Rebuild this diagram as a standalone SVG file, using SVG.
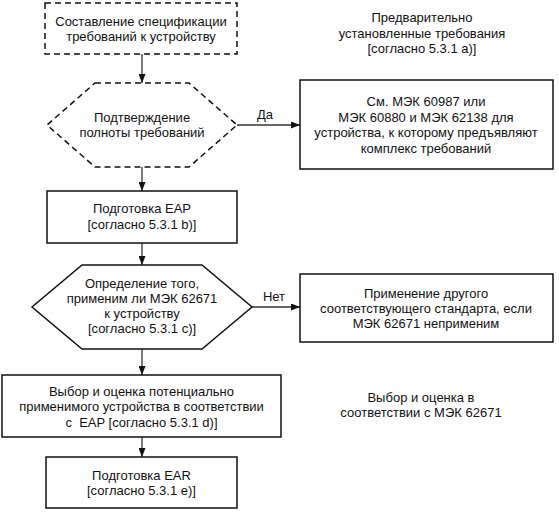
<svg xmlns="http://www.w3.org/2000/svg" width="559" height="513" viewBox="0 0 559 513">
<style>
  text { font-family: "Liberation Sans", Arial, sans-serif; font-size: 13px; fill: #111; text-anchor: middle; }
  .box { fill: #fff; stroke: #111; stroke-width: 1.5; }
  .dash { stroke-dasharray: 6 4; }
  .conn { stroke: #333; stroke-width: 1.3; fill: none; marker-end: url(#arrow); }
</style>
<defs>
  <marker id="arrow" markerWidth="9" markerHeight="7" refX="9" refY="3.5" orient="auto" markerUnits="userSpaceOnUse">
    <path d="M0,0 L9,3.5 L0,7 Z" fill="#111"/>
  </marker>
</defs>
<rect width="559" height="513" fill="#fff"/>

<g id="connectors">
  <line class="conn" x1="142" y1="54" x2="142" y2="83"/>
  <line class="conn" x1="142" y1="167" x2="142" y2="191"/>
  <line class="conn" x1="142" y1="243" x2="142" y2="265"/>
  <line class="conn" x1="142" y1="349" x2="142" y2="375"/>
  <line class="conn" x1="142" y1="437" x2="142" y2="457"/>
  <line class="conn" x1="237" y1="125" x2="300" y2="125"/>
  <line class="conn" x1="252" y1="307" x2="300" y2="307"/>
  <text x="265" y="119">Да</text>
  <text x="274" y="301">Нет</text>
</g>

<g id="spec">
  <rect class="box dash" x="45" y="3" width="192" height="51"/>
  <text x="141" y="26">Составление спецификации</text>
  <text x="141" y="41">требований к устройству</text>
</g>

<g id="preset">
  <text x="422" y="22">Предварительно</text>
  <text x="422" y="37.5">установленные требования</text>
  <text x="422" y="53">[согласно 5.3.1 a)]</text>
</g>

<g id="confirm">
  <polygon class="box dash" points="95,83 189,83 237,125 189,167 95,167 47,125"/>
  <text x="142" y="121.5">Подтверждение</text>
  <text x="142" y="137">полноты требований</text>
</g>

<g id="see-iec">
  <rect class="box" x="300" y="80" width="253" height="89"/>
  <text x="426" y="106">См. МЭК 60987 или</text>
  <text x="426" y="121.5">МЭК 60880 и МЭК 62138 для</text>
  <text x="426" y="137">устройства, к которому предъявляют</text>
  <text x="426" y="152.5">комплекс требований</text>
</g>

<g id="eap">
  <rect class="box" x="47" y="191" width="190" height="52"/>
  <text x="142" y="213">Подготовка EAP</text>
  <text x="142" y="228.5">[согласно 5.3.1 b)]</text>
</g>

<g id="determine">
  <polygon class="box" points="82,265 202,265 252,307 202,349 82,349 32,307"/>
  <text x="142" y="287.5">Определение того,</text>
  <text x="142" y="302.5">применим ли МЭК 62671</text>
  <text x="142" y="317.5">к устройству</text>
  <text x="142" y="332.5">[согласно 5.3.1 c)]</text>
</g>

<g id="other-std">
  <rect class="box" x="300" y="274" width="253" height="68"/>
  <text x="426" y="297.5">Применение другого</text>
  <text x="426" y="312.5">соответствующего стандарта, если</text>
  <text x="426" y="327.5">МЭК 62671 неприменим</text>
</g>

<g id="select">
  <rect class="box" x="2" y="375" width="279" height="62"/>
  <text x="141.5" y="395.5">Выбор и оценка потенциально</text>
  <text x="141.5" y="411">применимого устройства в соответствии</text>
  <text x="141.5" y="426.5" xml:space="preserve">с  EAP [согласно 5.3.1 d)]</text>
</g>

<g id="select-note">
  <text x="421" y="401.5">Выбор и оценка в</text>
  <text x="421" y="417">соответствии с МЭК 62671</text>
</g>

<g id="ear">
  <rect class="box" x="46" y="457" width="191" height="51"/>
  <text x="141.5" y="479.5">Подготовка EAR</text>
  <text x="141.5" y="495">[согласно 5.3.1 e)]</text>
</g>
</svg>
